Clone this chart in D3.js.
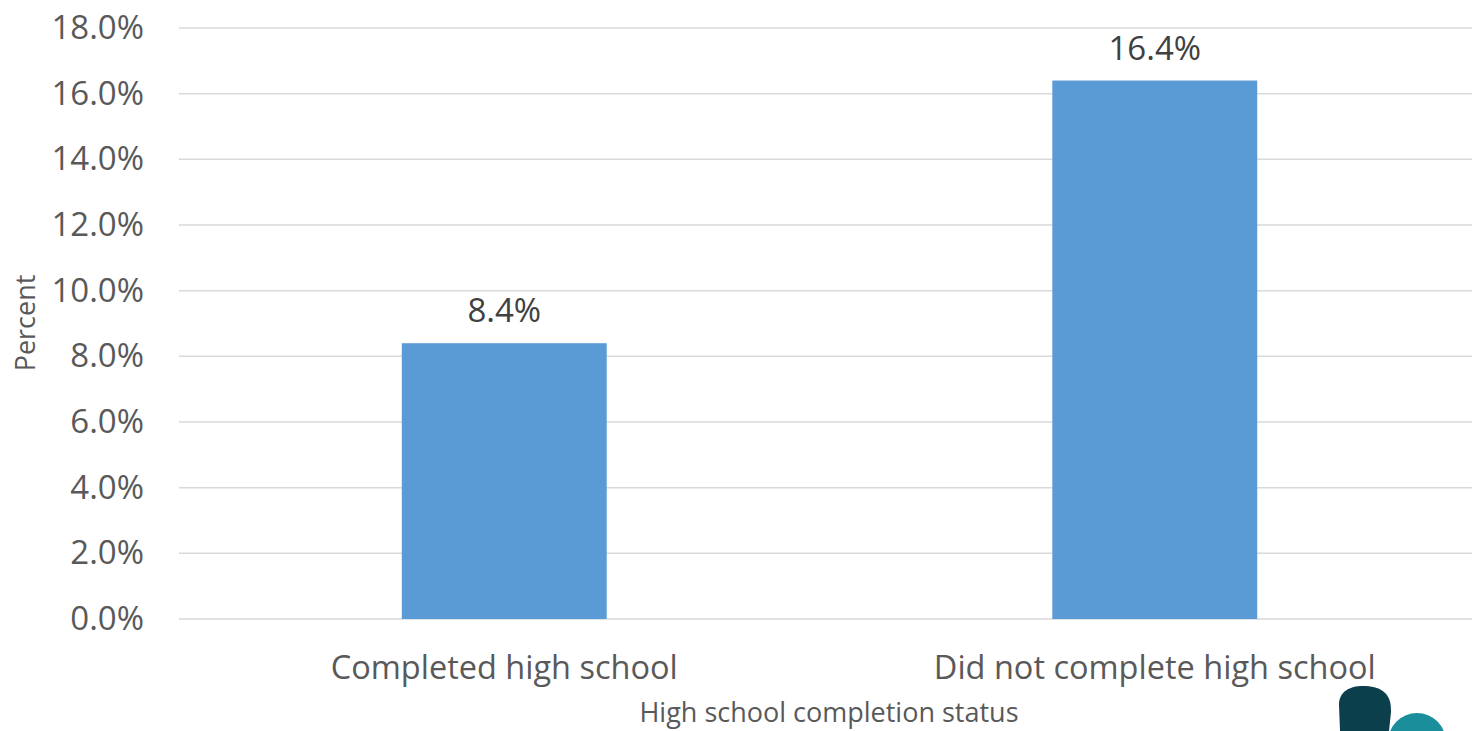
<!DOCTYPE html>
<html>
<head>
<meta charset="utf-8">
<script src="https://cdn.jsdelivr.net/npm/d3@7"></script>
<style>
  body { margin: 0; background: #fff; }
  text { font-family: "Open Sans", sans-serif; }
</style>
</head>
<body>
<svg id="chart" width="1472" height="731"></svg>
<script>
// chart data
const categories = ['Completed high school', 'Did not complete high school'];
const values = [8.4, 16.4];
const yTicks = [0, 2, 4, 6, 8, 10, 12, 14, 16, 18];

const svg = d3.select('#chart');

// plot area (right side runs past the window, like the original crop)
const x = d3.scaleBand()
  .domain(categories)
  .range([179, 1480])
  .paddingInner(0.685)
  .paddingOuter(0.3425);

const y = d3.scaleLinear()
  .domain([0, 18])
  .range([619, 28]);

// gridlines
svg.append('g')
  .selectAll('line')
  .data(yTicks)
  .enter()
  .append('line')
  .attr('x1', 179)
  .attr('x2', 1480)
  .attr('y1', d => y(d))
  .attr('y2', d => y(d))
  .attr('stroke', '#d9d9d9')
  .attr('stroke-width', 1.5);

// y axis labels
const yAxis = svg.append('g')
  .attr('transform', 'translate(144,0)')
  .call(d3.axisLeft(y).tickValues(yTicks).tickFormat(d => d.toFixed(1) + '%').tickSize(0).tickPadding(0));
yAxis.select('.domain').remove();
yAxis.selectAll('text')
  .attr('fill', '#595959')
  .style('font-size', '33px')
  .style('font-family', '"Open Sans", sans-serif');

// bars
svg.append('g')
  .selectAll('rect')
  .data(values)
  .enter()
  .append('rect')
  .attr('x', (d, i) => x(categories[i]))
  .attr('y', d => y(d))
  .attr('width', x.bandwidth())
  .attr('height', d => y(0) - y(d))
  .attr('fill', '#5b9bd5');

// value labels
svg.append('g')
  .selectAll('text')
  .data(values)
  .enter()
  .append('text')
  .attr('x', (d, i) => x(categories[i]) + x.bandwidth() / 2)
  .attr('y', d => y(d) - 21)
  .attr('text-anchor', 'middle')
  .attr('fill', '#404040')
  .style('font-size', '33px')
  .text(d => d.toFixed(1) + '%');

// category labels
const xAxis = svg.append('g')
  .attr('transform', 'translate(0,619)')
  .call(d3.axisBottom(x).tickSize(0).tickPadding(0));
xAxis.select('.domain').remove();
xAxis.selectAll('text')
  .attr('dy', null)
  .attr('y', 60)
  .attr('fill', '#595959')
  .style('font-size', '32.5px')
  .style('font-family', '"Open Sans", sans-serif');

// axis titles
svg.append('text')
  .attr('transform', 'translate(35,323) rotate(-90)')
  .attr('text-anchor', 'middle')
  .attr('fill', '#595959')
  .style('font-size', '27px')
  .text('Percent');

svg.append('text')
  .attr('x', 829)
  .attr('y', 722)
  .attr('text-anchor', 'middle')
  .attr('fill', '#595959')
  .style('font-size', '27px')
  .text('High school completion status');

// logo fragment in the corner
const logo = svg.append('g');
logo.append('circle')
  .attr('cx', 1417)
  .attr('cy', 742)
  .attr('r', 29)
  .attr('fill', '#1a8e9b');
logo.append('path')
  .attr('d', 'M1340,731 L1339,705 C1339,690 1352,685 1366,686 C1382,687 1392,694 1391,712 L1389,731 Z')
  .attr('fill', '#0b3f4b');
</script>
</body>
</html>
